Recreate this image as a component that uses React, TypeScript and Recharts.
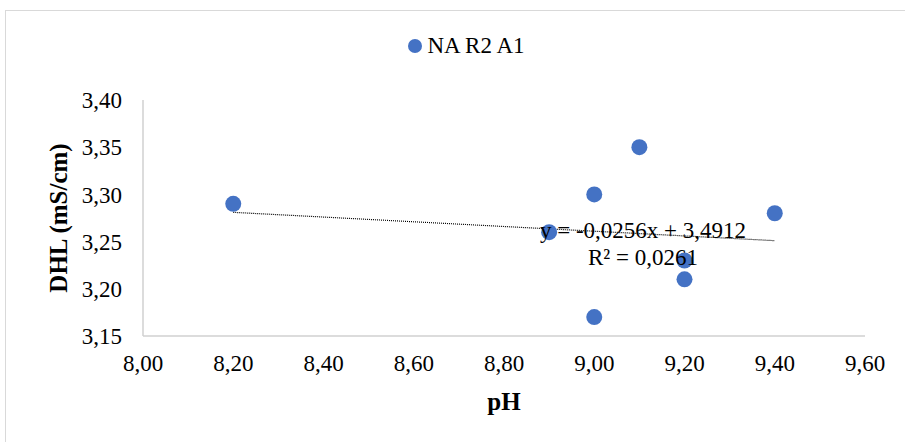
import React from 'react';
import { ScatterChart, Scatter, XAxis, YAxis, ReferenceLine, ReferenceDot } from 'recharts';

const phValues = [8.2, 8.9, 9.0, 9.0, 9.1, 9.2, 9.2, 9.4];
const dhlValues = [3.29, 3.26, 3.3, 3.17, 3.35, 3.23, 3.21, 3.28];
const seriesName = 'NA R2 A1';

// linear trendline end points (y = -0,0256x + 3,4912)
const trendX = [8.2, 9.4];
const trendY = [3.281, 3.251];
const trendEquation = 'y = -0,0256x + 3,4912';
const trendR2 = 'R² = 0,0261';

const xTicks = [8.0, 8.2, 8.4, 8.6, 8.8, 9.0, 9.2, 9.4, 9.6];
const yTicks = [3.15, 3.2, 3.25, 3.3, 3.35, 3.4];

const FONT = '"Liberation Serif", "Times New Roman", serif';
const BLUE = '#4472C4';

const points = phValues.map((ph, i) => ({ ph, dhl: dhlValues[i] }));

// Format number with comma decimal separator
const fmt = (v: number) => v.toFixed(2).replace('.', ',');

const Dot = (props: any) => <circle cx={props.cx} cy={props.cy} r={8} fill={BLUE} />;

const App: React.FC = () => {
  return (
    <div style={{ position: 'absolute', left: 0, top: 0, width: 905, height: 442, overflow: 'hidden', background: '#fff' }}>
      <div
        style={{
          position: 'absolute',
          left: 5,
          top: 10,
          width: 930,
          height: 460,
          border: '1px solid #d9d9d9',
        }}
      />
      <div
        style={{
          position: 'absolute',
          top: 33,
          left: 0,
          width: 905,
          display: 'flex',
          justifyContent: 'center',
          alignItems: 'center',
          fontFamily: FONT,
          fontSize: 23,
          color: '#000',
          paddingLeft: 28,
          boxSizing: 'border-box',
        }}
      >
        <span style={{ display: 'inline-block', width: 14, height: 14, borderRadius: 7, background: BLUE, marginRight: 5 }} />
        <span>{seriesName}</span>
      </div>
      <div style={{ position: 'absolute', left: 0, top: 0 }}>
        <ScatterChart width={905} height={442} margin={{ top: 100, right: 40, bottom: 26, left: 0 }}>
          <XAxis
            type="number"
            dataKey="ph"
            domain={[8.0, 9.6]}
            ticks={xTicks}
            tickFormatter={fmt}
            interval={0}
            height={80}
            tickSize={0}
            tickMargin={19}
            axisLine={{ stroke: '#d0d0d0', strokeWidth: 1.5 }}
            tickLine={false}
            tick={{ fill: '#000', fontFamily: FONT, fontSize: 23 }}
            label={{
              content: ({ viewBox }: any) => (
                <text
                  x={viewBox.x + viewBox.width / 2}
                  y={410}
                  textAnchor="middle"
                  fontFamily={FONT}
                  fontSize={25}
                  fontWeight="bold"
                  fill="#000"
                >
                  pH
                </text>
              ),
            }}
          />
          <YAxis
            type="number"
            dataKey="dhl"
            domain={[3.15, 3.4]}
            ticks={yTicks}
            tickFormatter={fmt}
            interval={0}
            width={143}
            tickSize={0}
            tickMargin={21}
            axisLine={{ stroke: '#d0d0d0', strokeWidth: 1.5 }}
            tickLine={false}
            tick={{ fill: '#000', fontFamily: FONT, fontSize: 23 }}
            label={{
              content: ({ viewBox }: any) => {
                const cx = 58;
                const cy = viewBox.y + viewBox.height / 2;
                return (
                  <text
                    x={cx}
                    y={cy}
                    transform={`rotate(-90, ${cx}, ${cy})`}
                    textAnchor="middle"
                    dominantBaseline="central"
                    fontFamily={FONT}
                    fontSize={25}
                    fontWeight="bold"
                    fill="#000"
                  >
                    DHL (mS/cm)
                  </text>
                );
              },
            }}
          />
          <ReferenceLine
            segment={[
              { x: trendX[0], y: trendY[0] },
              { x: trendX[1], y: trendY[1] },
            ]}
            stroke="#000"
            strokeWidth={1.2}
            strokeDasharray="1 1"
          />
          <Scatter name={seriesName} data={points} shape={Dot} isAnimationActive={false} />
          <ReferenceDot
            x={9.108}
            y={3.262}
            r={0}
            fill="none"
            stroke="none"
            label={{
              content: ({ viewBox }: any) => (
                <g fontFamily={FONT} fontSize={23} fill="#000" textAnchor="middle">
                  <text x={viewBox.x} y={viewBox.y} dominantBaseline="central">
                    {trendEquation}
                  </text>
                  <text x={viewBox.x} y={viewBox.y + 27} dominantBaseline="central">
                    {trendR2}
                  </text>
                </g>
              ),
            }}
          />
        </ScatterChart>
      </div>
    </div>
  );
};

export default App;
